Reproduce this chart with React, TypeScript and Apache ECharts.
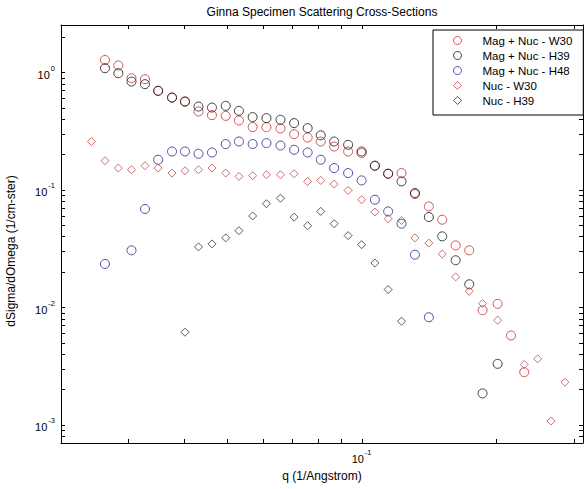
import React, { useEffect, useRef } from "react";
import * as echarts from "echarts";

// q grid (1/Angstrom)
const qValues = [
  0.0248, 0.0266, 0.0285, 0.0305, 0.0327, 0.035, 0.0376, 0.0402, 0.0431, 0.0462,
  0.0496, 0.0531, 0.057, 0.0612, 0.0658, 0.0706, 0.0757, 0.081, 0.0868, 0.0933,
  0.1, 0.1071, 0.1147, 0.1229, 0.1317, 0.1415, 0.1516, 0.1625, 0.1743, 0.1867,
  0.2018, 0.2162, 0.2315, 0.2481, 0.2658, 0.2856,
];

const magNucW30 = [
  null, 1.27, 1.14, 0.889, 0.872, 0.694, 0.608, 0.5625, 0.463, 0.431,
  0.425, 0.388, 0.341, 0.341, 0.332, 0.297, 0.278, 0.257, 0.233, 0.2115,
  0.205, 0.16, 0.137, 0.1386, 0.0919, 0.0721, 0.0556, 0.0336, 0.0305, 0.00943,
  0.01069, 0.00575, 0.0028, null, null, null,
];

const magNucH39 = [
  null, 1.081, 0.981, 0.832, 0.791, 0.694, 0.608, 0.5625, 0.51, 0.5,
  0.517, 0.469, 0.4147, 0.4066, 0.3934, 0.3687, 0.3343, 0.2904, 0.2572, 0.2412,
  0.2115, 0.1599, 0.1367, 0.1176, 0.0937, 0.0586, 0.0401, 0.0251, 0.01568, 0.00185,
  0.0033, null, null, null, null, null,
];

const magNucH48 = [
  null, 0.02337, null, 0.0305, 0.0686, 0.1799, 0.2115, 0.2115, 0.2022, 0.2074,
  0.2445, 0.2572, 0.2445, 0.2492, 0.2378, 0.2187, 0.2074, 0.1799, 0.1529, 0.1386,
  0.12, 0.0822, 0.0654, 0.0514, 0.028, 0.00822, null, null, null, null,
  null, null, null, null, null, null,
];

const nucW30 = [
  0.2572, 0.1764, 0.1529, 0.1479, 0.1599, 0.1529, 0.1386, 0.145, 0.1479, 0.1529,
  0.1386, 0.1297, 0.1315, 0.1341, 0.1341, 0.1367, 0.1176, 0.12, 0.1117, 0.0986,
  0.0822, 0.0646, 0.0567, 0.0548, 0.0389, 0.0352, 0.0284, 0.01813, 0.01368, 0.01075,
  0.00776, null, 0.00326, 0.00364, 0.001075, 0.002306,
];

const nucH39 = [
  null, null, null, null, null, null, null, 0.00613, 0.0326, 0.0346,
  0.0389, 0.0448, 0.0598, 0.076, 0.0847, 0.0584, 0.0494, 0.0654, 0.0514, 0.0407,
  0.0341, 0.0238, 0.01414, 0.0076, null, null, null, null, null, null,
  null, null, null, null, null, null,
];

const seriesNames = [
  "Mag + Nuc - W30",
  "Mag + Nuc - H39",
  "Mag + Nuc - H48",
  "Nuc - W30",
  "Nuc - H39",
];

const xLabelTicks = [0.1];
const xTicks = [0.03, 0.04, 0.05, 0.06, 0.07, 0.08, 0.09, 0.1, 0.2, 0.3];
const yLabelTicks = [0.001, 0.01, 0.1, 1];
const yTicks = [
  0.0008, 0.0009, 0.001, 0.002, 0.003, 0.004, 0.005, 0.006, 0.007, 0.008, 0.009,
  0.01, 0.02, 0.03, 0.04, 0.05, 0.06, 0.07, 0.08, 0.09,
  0.1, 0.2, 0.3, 0.4, 0.5, 0.6, 0.7, 0.8, 0.9, 1, 2,
];

const FONT = '"Liberation Sans", Arial, Helvetica, sans-serif';

function pairs(vals: (number | null)[]) {
  const out: number[][] = [];
  qValues.forEach((q, i) => {
    const v = vals[i];
    if (v !== null && v !== undefined) out.push([q, v]);
  });
  return out;
}

function powLabel(v: number) {
  const e = Math.round(Math.log10(v));
  return `{b|10}{s|${e}}`;
}

const richLabel = {
  b: { fontSize: 11, fontFamily: FONT, color: "#000", lineHeight: 16, verticalAlign: "bottom" },
  s: { fontSize: 7.5, fontFamily: FONT, color: "#000", lineHeight: 9, verticalAlign: "top", padding: [0, 0, 0, 1] },
};

const TICK = 4;

export default function App() {
  const ref = useRef<HTMLDivElement>(null);
  useEffect(() => {
    document.body.style.margin = "0";
    const chart = echarts.init(ref.current!, null, { renderer: "svg" });

    const axisCommon = {
      type: "log" as const,
      logBase: 10,
      splitLine: { show: false },
      axisLine: { show: true, lineStyle: { color: "#000", width: 1 } },
      axisTick: { show: false },
    };

    const xMin = 0.0212;
    const xMax = 0.3135;
    const yMin = 0.0007;
    const yMax = 2.52;

    const mk = (name: string, vals: (number | null)[], symbol: string, color: string, size: number | number[]) => ({
      name,
      type: "scatter",
      data: pairs(vals),
      symbol,
      symbolSize: size,
      itemStyle: { color: "transparent", borderColor: color, borderWidth: 1 },
      emphasis: { disabled: true },
      xAxisIndex: 0,
      yAxisIndex: 0,
    });

    const lineStyle = { stroke: "#000", lineWidth: 1 };

    const xTickSeries = {
      name: "xTicks",
      type: "custom",
      silent: true,
      clip: false,
      xAxisIndex: 0,
      yAxisIndex: 0,
      data: xTicks.map((v) => [v, yMin]),
      renderItem: (params: any, api: any) => {
        const cs = params.coordSys;
        const px = Math.round(api.coord([api.value(0), api.value(1)])[0]) + 0.5;
        const bottom = cs.y + cs.height;
        return {
          type: "group",
          children: [
            { type: "line", shape: { x1: px, y1: bottom, x2: px, y2: bottom - TICK }, style: lineStyle },
            { type: "line", shape: { x1: px, y1: cs.y, x2: px, y2: cs.y + TICK }, style: lineStyle },
          ],
        };
      },
    };

    const yTickSeries = {
      name: "yTicks",
      type: "custom",
      silent: true,
      clip: false,
      xAxisIndex: 0,
      yAxisIndex: 0,
      data: yTicks.map((v) => [xMin, v]),
      renderItem: (params: any, api: any) => {
        const cs = params.coordSys;
        const py = Math.round(api.coord([api.value(0), api.value(1)])[1]) + 0.5;
        const right = cs.x + cs.width;
        return {
          type: "group",
          children: [
            { type: "line", shape: { x1: cs.x, y1: py, x2: cs.x + TICK, y2: py }, style: lineStyle },
            { type: "line", shape: { x1: right, y1: py, x2: right - TICK, y2: py }, style: lineStyle },
          ],
        };
      },
    };

    chart.setOption({
      animation: false,
      backgroundColor: "#fff",
      textStyle: { fontFamily: FONT },
      grid: { left: 61, top: 25, width: 522, height: 418, outerBoundsMode: "none" },
      graphic: [
        {
          type: "text",
          x: 322,
          y: 12,
          style: {
            text: "Ginna Specimen Scattering Cross-Sections",
            align: "center",
            verticalAlign: "middle",
            fontSize: 12,
            fontFamily: FONT,
            fill: "#000",
          },
        },
      ],
      xAxis: [
        {
          ...axisCommon,
          position: "bottom",
          min: xMin,
          max: xMax,
          axisLabel: {
            show: true,
            customValues: xLabelTicks,
            margin: 5,
            formatter: (v: number) => powLabel(v),
            rich: richLabel,
          },
          name: "q (1/Angstrom)",
          nameLocation: "middle",
          nameGap: 27,
          nameTextStyle: { fontSize: 12, fontFamily: FONT, color: "#000" },
        },
        {
          ...axisCommon,
          position: "top",
          min: xMin,
          max: xMax,
          axisLabel: { show: false },
        },
      ],
      yAxis: [
        {
          ...axisCommon,
          position: "left",
          min: yMin,
          max: yMax,
          axisLabel: {
            show: true,
            customValues: yLabelTicks,
            margin: 6,
            formatter: (v: number) => powLabel(v),
            rich: richLabel,
          },
          name: "dSigma/dOmega (1/cm-ster)",
          nameLocation: "middle",
          nameGap: 44,
          nameTextStyle: { fontSize: 12, fontFamily: FONT, color: "#000", padding: [0, 34, 0, 0] },
        },
        {
          ...axisCommon,
          position: "right",
          min: yMin,
          max: yMax,
          axisLabel: { show: false },
        },
      ],
      legend: {
        show: true,
        orient: "vertical",
        left: 433,
        top: 30,
        padding: [4, 11, 8, 20],
        itemGap: 2,
        itemWidth: 8,
        itemHeight: 8,
        backgroundColor: "#fff",
        borderColor: "#000",
        borderWidth: 1,
        borderRadius: 0,
        selectedMode: false,
        itemStyle: { borderWidth: 1 },
        textStyle: { fontSize: 11.5, fontFamily: FONT, color: "#000", lineHeight: 13, padding: [0, 0, 0, 16] },
        data: seriesNames,
      },
      series: [
        xTickSeries,
        yTickSeries,
        mk(seriesNames[0], magNucW30, "circle", "#cc2828", 9),
        mk(seriesNames[1], magNucH39, "circle", "#111111", 9),
        mk(seriesNames[2], magNucH48, "circle", "#22229c", 9),
        mk(seriesNames[3], nucW30, "diamond", "#c44a4a", [8, 8]),
        mk(seriesNames[4], nucH39, "diamond", "#333333", [8, 8]),
      ],
    });
    return () => chart.dispose();
  }, []);
  return <div ref={ref} style={{ width: 584, height: 489 }} />;
}
